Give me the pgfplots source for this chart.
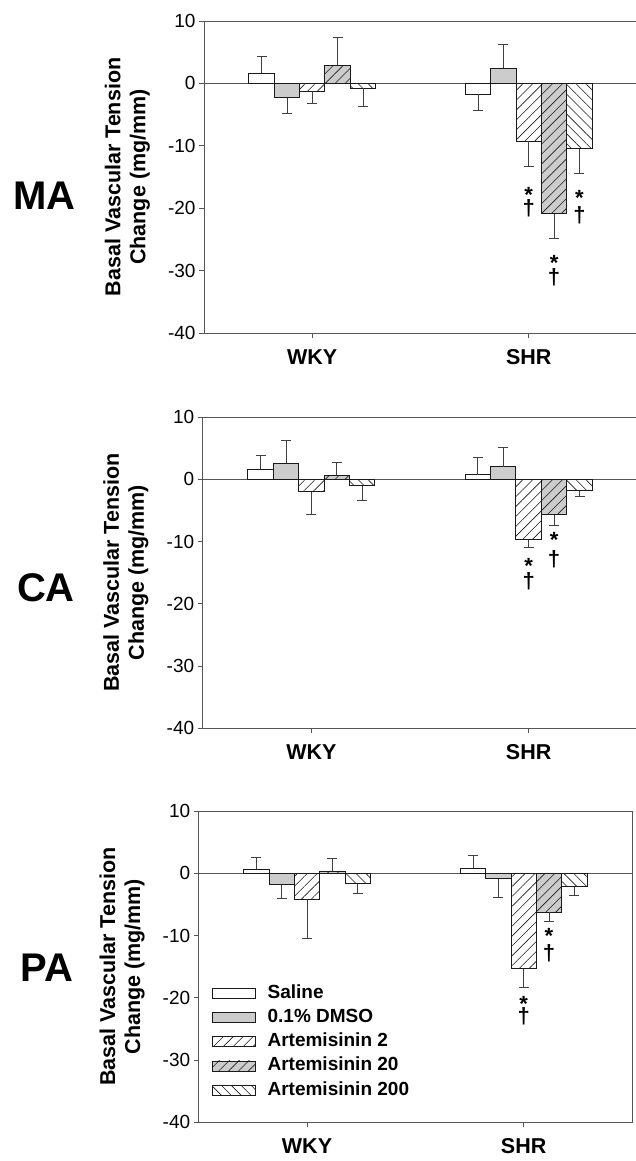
\documentclass[border=0pt]{standalone}
\usepackage{pgfplots}
\pgfplotsset{compat=1.18}
\usepackage{fontspec}
\setmainfont{Liberation Sans}
\usetikzlibrary{patterns.meta}
\definecolor{barfill}{HTML}{CCCCCC}
\definecolor{edge}{HTML}{1A1A1A}
\definecolor{axisc}{HTML}{555555}
\definecolor{errc}{HTML}{404040}
\newcommand{\tickfont}{\fontsize{19}{22}\selectfont}
\newcommand{\xfont}{\fontsize{21.5}{25}\selectfont\bfseries}
\newcommand{\labfont}{\fontsize{21.5}{25}\selectfont\bfseries}
\newcommand{\bigfont}{\fontsize{40}{44}\selectfont\bfseries}
\newcommand{\starfont}{\fontsize{22}{25}\selectfont\bfseries}
\newcommand{\legfont}{\fontsize{19}{22}\selectfont\bfseries}
\pgfplotsset{
  panel/.style={
    scale only axis,
    xmin=-0.5, xmax=1.5, ymin=-40, ymax=10,
    xtick={0,1}, xticklabels={WKY,SHR},
    ytick={-40,-30,-20,-10,0,10},
    tick align=outside, xtick pos=left, ytick pos=left,
    major tick length=5pt,
    axis line style={axisc, line width=0.9pt},
    every tick/.style={axisc, line width=0.9pt},
    x tick label style={font=\xfont, yshift=-8pt},
    y tick label style={font=\tickfont},
    /pgf/number format/assume math mode=true,
    ylabel={Basal Vascular Tension\\Change (mg/mm)},
    ylabel style={font=\labfont, align=center, at={(axis description cs:-0.177,0.5)}, anchor=center},
    clip=false,
  },
  barbase/.style={ybar, bar width=0.117, bar shift=0pt, draw=edge, line width=0.9pt,
    legend image code/.code={\draw[##1] (0pt,-5pt) rectangle (43pt,5pt);}},
  sal/.style={barbase, fill=white},
  dmso/.style={barbase, fill=barfill},
  atwo/.style={barbase, fill=white, postaction={pattern={Lines[angle=45,distance=7pt,line width=0.6pt]}, pattern color=edge}},
  atwenty/.style={barbase, fill=barfill, postaction={pattern={Lines[angle=45,distance=7pt,line width=0.6pt]}, pattern color=edge}},
  atwohundred/.style={barbase, fill=white, postaction={pattern={Lines[angle=-45,distance=7pt,line width=0.6pt]}, pattern color=edge}},
  errs/.style={draw=none, mark=none, forget plot,
    error bars/y explicit,
    error bars/error bar style={draw=errc, line width=0.8pt, solid},
    error bars/error mark options={rotate=90, draw=errc, mark size=5pt, line width=0.8pt, solid}},
  zeroline/.style={axisc, line width=0.9pt, forget plot, mark=none},
}
\begin{document}
\begin{tikzpicture}
\path[use as bounding box] (0pt,0pt) rectangle (636pt,1161pt);

% ---------------- MA ----------------
\begin{axis}[panel, at={(204pt,828pt)}, anchor=south west, width=433pt, height=312pt]
\addplot[zeroline] coordinates {(-0.5,0) (1.5,0)};
\addplot[sal] coordinates {(-0.234,1.66) (0.766,-1.76)};
\addplot[dmso] coordinates {(-0.117,-2.3) (0.883,2.46)};
\addplot[atwo] coordinates {(0,-1.23) (1,-9.24)};
\addplot[atwenty] coordinates {(0.117,2.9) (1.117,-20.9)};
\addplot[atwohundred] coordinates {(0.234,-0.75) (1.234,-10.5)};
\addplot[errs, error bars/y dir=plus] coordinates {
  (-0.234,1.66) +- (0,2.6)
  (0.117,2.9) +- (0,4.5)
  (0.883,2.46) +- (0,3.85)
};
\addplot[errs, error bars/y dir=minus] coordinates {
  (-0.117,-2.3) +- (0,2.5)
  (0,-1.23) +- (0,1.9)
  (0.234,-0.75) +- (0,3.0)
  (0.766,-1.76) +- (0,2.57)
  (1,-9.24) +- (0,4.0)
  (1.117,-20.9) +- (0,4.0)
  (1.234,-10.5) +- (0,3.85)
};
\node[font=\starfont, yshift=-4.5pt] at (axis cs:1,-17.1) {*};
\node[font=\starfont] at (axis cs:1,-20.0) {†};
\node[font=\starfont, yshift=-4.5pt] at (axis cs:1.117,-28.0) {*};
\node[font=\starfont] at (axis cs:1.117,-31.0) {†};
\node[font=\starfont, yshift=-4.5pt] at (axis cs:1.234,-17.6) {*};
\node[font=\starfont] at (axis cs:1.234,-21.1) {†};
\end{axis}

% ---------------- CA ----------------
\begin{axis}[panel, at={(202.7pt,432.7pt)}, anchor=south west, width=434.6pt, height=311.3pt]
\addplot[zeroline] coordinates {(-0.5,0) (1.5,0)};
\addplot[sal] coordinates {(-0.234,1.6) (0.766,0.7)};
\addplot[dmso] coordinates {(-0.117,2.57) (0.883,2.03)};
\addplot[atwo] coordinates {(0,-2.03) (1,-9.7)};
\addplot[atwenty] coordinates {(0.117,0.64) (1.117,-5.67)};
\addplot[atwohundred] coordinates {(0.234,-1.07) (1.234,-1.82)};
\addplot[errs, error bars/y dir=plus] coordinates {
  (-0.234,1.6) +- (0,2.3)
  (-0.117,2.57) +- (0,3.64)
  (0.117,0.64) +- (0,2.0)
  (0.766,0.7) +- (0,2.8)
  (0.883,2.03) +- (0,3.1)
};
\addplot[errs, error bars/y dir=minus] coordinates {
  (0,-2.03) +- (0,3.6)
  (0.234,-1.07) +- (0,2.4)
  (1,-9.7) +- (0,1.3)
  (1.117,-5.67) +- (0,1.8)
  (1.234,-1.82) +- (0,0.96)
};
\node[font=\starfont, yshift=-4.5pt] at (axis cs:1,-13.2) {*};
\node[font=\starfont] at (axis cs:1,-16.45) {†};
\node[font=\starfont, yshift=-4.5pt] at (axis cs:1.117,-8.95) {*};
\node[font=\starfont] at (axis cs:1.117,-12.8) {†};
\end{axis}

% ---------------- PA ----------------
\begin{axis}[panel, at={(198.7pt,38.7pt)}, anchor=south west, width=433.3pt, height=311.3pt,
  legend cell align=left,
  legend style={draw=none, fill=none, inner sep=0pt, outer sep=0pt,
    at={(axis description cs:0.030,0.444)}, anchor=north west,
    font=\legfont, row sep=6.3pt, column sep=12pt,
    nodes={inner sep=0pt, text height=14pt, text depth=4pt}}]
\addplot[zeroline] coordinates {(-0.5,0) (1.5,0)};
\addplot[sal] coordinates {(-0.234,0.64) (0.766,0.8)};
\addlegendentry{Saline}
\addplot[dmso] coordinates {(-0.117,-1.82) (0.883,-0.86)};
\addlegendentry{0.1\% DMSO}
\addplot[atwo] coordinates {(0,-4.23) (1,-15.36)};
\addlegendentry{Artemisinin 2}
\addplot[atwenty] coordinates {(0.117,0.37) (1.117,-6.26)};
\addlegendentry{Artemisinin 20}
\addplot[atwohundred] coordinates {(0.234,-1.66) (1.234,-2.14)};
\addlegendentry{Artemisinin 200}
\addplot[errs, error bars/y dir=plus] coordinates {
  (-0.234,0.64) +- (0,1.93)
  (0.117,0.37) +- (0,2.0)
  (0.766,0.8) +- (0,2.14)
};
\addplot[errs, error bars/y dir=minus] coordinates {
  (-0.117,-1.82) +- (0,2.25)
  (0,-4.23) +- (0,6.16)
  (0.234,-1.66) +- (0,1.55)
  (0.883,-0.86) +- (0,3.05)
  (1,-15.36) +- (0,2.94)
  (1.117,-6.26) +- (0,1.45)
  (1.234,-2.14) +- (0,1.34)
};
\node[font=\starfont, yshift=-4.5pt] at (axis cs:1,-20.3) {*};
\node[font=\starfont] at (axis cs:1,-23.0) {†};
\node[font=\starfont, yshift=-4.5pt] at (axis cs:1.117,-9.4) {*};
\node[font=\starfont] at (axis cs:1.117,-12.85) {†};
\end{axis}

\node[font=\bigfont] at (44.5pt,965pt) {MA};
\node[font=\bigfont] at (46pt,573.5pt) {CA};
\node[font=\bigfont] at (46.7pt,193pt) {PA};
\end{tikzpicture}
\end{document}
